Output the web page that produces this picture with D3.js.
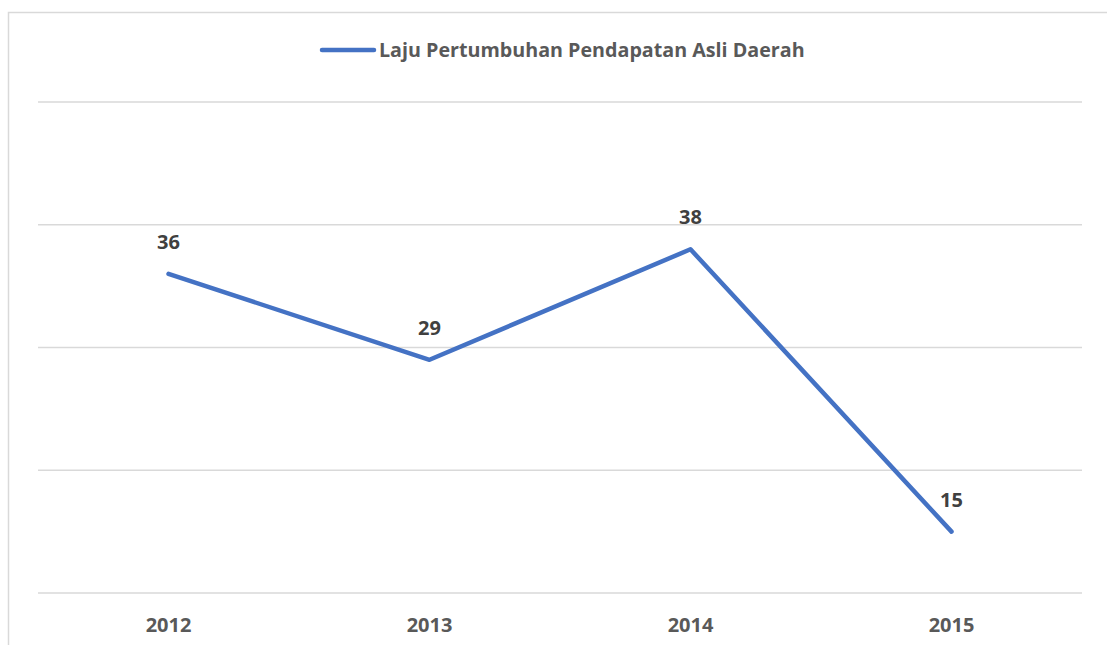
<!DOCTYPE html>
<html>
<head>
<meta charset="utf-8">
<script src="https://cdn.jsdelivr.net/npm/d3@7"></script>
<style>
  body { margin: 0; background: #fff; }
  svg { display: block; font-family: "Open Sans", Lato, sans-serif; }
</style>
</head>
<body>
<div id="chart"></div>
<script>
let years = ["2012", "2013", "2014", "2015"];
let growth = [36, 29, 38, 15];
let gridTicks = [10, 20, 30, 40, 50];
let seriesName = "Laju Pertumbuhan Pendapatan Asli Daerah";

let width = 1107, height = 645;
let lineColor = "#4472C4", textColor = "#595959", gridColor = "#d9d9d9";

let svg = d3.select("#chart").append("svg")
  .attr("width", width)
  .attr("height", height);

// chart frame
svg.append("rect")
  .attr("x", 8.5).attr("y", 12.5)
  .attr("width", 1120).attr("height", 660)
  .attr("fill", "none")
  .attr("stroke", gridColor)
  .attr("stroke-width", 1.5);

let x = d3.scalePoint().domain(years).range([38, 1082]).padding(0.5);
let y = d3.scaleLinear().domain([10, 50]).range([593, 102]);

// gridlines
svg.append("g").selectAll("line")
  .data(gridTicks).enter()
  .append("line")
  .attr("x1", 38).attr("x2", 1082)
  .attr("y1", d => y(d)).attr("y2", d => y(d))
  .attr("stroke", gridColor)
  .attr("stroke-width", 1.5);

// x axis labels
svg.append("g").selectAll("text")
  .data(years).enter()
  .append("text")
  .attr("x", d => x(d))
  .attr("y", 632)
  .attr("text-anchor", "middle")
  .attr("font-size", 20)
  .attr("font-weight", "bold")
  .attr("fill", textColor)
  .text(d => d);

// series line
let line = d3.line()
  .x((d, i) => x(years[i]))
  .y(d => y(d));

svg.append("path")
  .datum(growth)
  .attr("d", line)
  .attr("fill", "none")
  .attr("stroke", lineColor)
  .attr("stroke-width", 4.5)
  .attr("stroke-linecap", "round")
  .attr("stroke-linejoin", "round");

// data labels
svg.append("g").selectAll("text")
  .data(growth).enter()
  .append("text")
  .attr("x", (d, i) => x(years[i]))
  .attr("y", d => y(d) - 25)
  .attr("text-anchor", "middle")
  .attr("font-size", 20)
  .attr("font-weight", "bold")
  .attr("fill", "#404040")
  .text(d => d);

// legend
let legend = svg.append("g");
legend.append("line")
  .attr("x1", 322).attr("x2", 374)
  .attr("y1", 50).attr("y2", 50)
  .attr("stroke", lineColor)
  .attr("stroke-width", 4.5)
  .attr("stroke-linecap", "round");
legend.append("text")
  .attr("x", 379).attr("y", 57)
  .attr("font-size", 19.7)
  .attr("font-weight", "bold")
  .attr("fill", textColor)
  .text(seriesName);
</script>
</body>
</html>
